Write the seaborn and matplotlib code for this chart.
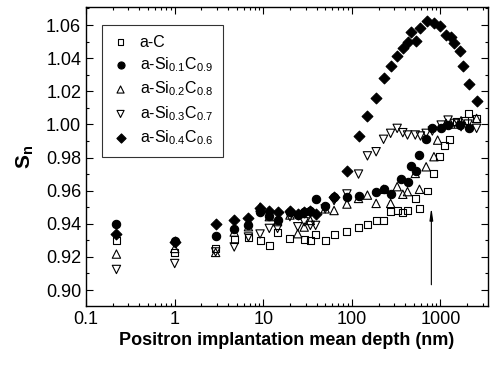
import matplotlib
matplotlib.use("Agg")
import matplotlib.pyplot as plt
from matplotlib.ticker import LogLocator, MultipleLocator, FixedLocator, FixedFormatter
import seaborn as sns

# depth (nm) / S-parameter readings for each film
x_aC = [0.22, 1.0, 2.9, 4.7, 6.8, 9.2, 11.7, 14.5, 20, 29, 34, 39, 50, 63, 88, 119, 150, 188,
        228, 274, 325, 376, 425, 520, 580, 710, 845, 980, 1110, 1270, 1500, 1850, 2090, 2560]
s_aC = [0.930, 0.9227, 0.9251, 0.9306, 0.9318, 0.930, 0.9271, 0.9348, 0.9312, 0.9306, 0.930,
        0.9336, 0.930, 0.9336, 0.9352, 0.9378, 0.9396, 0.9422, 0.9422, 0.9473, 0.948, 0.947,
        0.948, 0.9553, 0.949, 0.9598, 0.9704, 0.9805, 0.9875, 0.991, 1.0016, 1.0026, 1.0067, 1.0036]

x_si01 = [0.22, 1.0, 2.9, 4.7, 6.8, 9.2, 11.7, 14.5, 20, 24.5, 29, 34, 39, 50, 63, 88, 119,
          188, 228, 274, 360, 425, 467, 532, 580, 690, 810, 1020, 1220, 1650, 2090]
s_si01 = [0.9398, 0.9298, 0.9328, 0.9366, 0.939, 0.9473, 0.9447, 0.942, 0.9473, 0.945, 0.947,
          0.948, 0.9547, 0.951, 0.956, 0.956, 0.957, 0.959, 0.961, 0.958, 0.967, 0.965, 0.975,
          0.972, 0.9815, 0.991, 0.998, 0.9976, 0.9996, 0.9996, 0.998]

x_si02 = [0.22, 1.0, 2.9, 4.7, 6.8, 9.2, 11.7, 14.5, 20, 24.5, 29, 34, 50, 63, 88, 119, 150,
          188, 228, 274, 325, 376, 425, 520, 580, 690, 845, 930, 1160, 1440, 1710, 2560]
s_si02 = [0.9217, 0.9251, 0.9227, 0.935, 0.9382, 0.950, 0.9443, 0.9413, 0.9453, 0.934, 0.938,
          0.942, 0.949, 0.948, 0.9519, 0.9553, 0.9573, 0.9523, 0.9608, 0.9523, 0.9624, 0.9578,
          0.9594, 0.9704, 0.9608, 0.9744, 0.9805, 0.9905, 1.0006, 1.0002, 1.0022, 1.0036]

x_si03 = [0.22, 1.0, 2.9, 4.7, 6.8, 9.2, 11.7, 14.5, 20, 24.5, 29, 34, 39, 50, 63, 88, 119,
          150, 188, 228, 274, 325, 376, 425, 520, 595, 690, 810, 1020, 1220, 1440, 1710, 2050, 2560]
s_si03 = [0.9124, 0.916, 0.923, 0.926, 0.932, 0.9338, 0.9372, 0.9372, 0.9443, 0.9382, 0.9412,
          0.939, 0.939, 0.949, 0.954, 0.958, 0.970, 0.981, 0.9835, 0.991, 0.9946, 0.9976, 0.995,
          0.9936, 0.9936, 0.993, 0.9946, 0.996, 0.9996, 1.0026, 1.0006, 0.9986, 1.0002, 0.9976]

x_si04 = [0.22, 1.0, 2.9, 4.7, 6.8, 9.2, 11.7, 14.5, 20, 24.5, 29, 34, 39, 63, 88, 119, 150,
          188, 228, 274, 325, 376, 425, 467, 532, 595, 710, 845, 980, 1160, 1310, 1440, 1650,
          1780, 2090, 2560]
s_si04 = [0.9338, 0.9288, 0.9398, 0.9422, 0.9432, 0.9493, 0.948, 0.947, 0.948, 0.946, 0.947,
          0.948, 0.946, 0.956, 0.972, 0.993, 1.005, 1.016, 1.028, 1.035, 1.041, 1.046, 1.050,
          1.0556, 1.0505, 1.058, 1.0624, 1.061, 1.0596, 1.054, 1.0526, 1.049, 1.0445, 1.035,
          1.0244, 1.0143]

labels = ["a-C", r"a-Si$_{0.1}$C$_{0.9}$", r"a-Si$_{0.2}$C$_{0.8}$",
          r"a-Si$_{0.3}$C$_{0.7}$", r"a-Si$_{0.4}$C$_{0.6}$"]
x_ticks = [0.1, 1, 10, 100, 1000]
x_ticklabels = ["0.1", "1", "10", "100", "1000"]

sns.set_style("ticks")
plt.rcParams["font.family"] = ["Liberation Sans", "DejaVu Sans"]
plt.rcParams["mathtext.fontset"] = "custom"
plt.rcParams["mathtext.rm"] = "Liberation Sans"
plt.rcParams["mathtext.it"] = "Liberation Sans:italic"
plt.rcParams["mathtext.bf"] = "Liberation Sans:bold"
plt.rcParams["text.color"] = "black"
plt.rcParams["axes.labelcolor"] = "black"

fig = plt.figure(figsize=(4.92, 3.67), dpi=100)
ax = fig.add_axes([0.175, 0.166, 0.817, 0.815])

series = [
    (x_aC, s_aC, "s", "none", 5),
    (x_si01, s_si01, "o", "black", 6),
    (x_si02, s_si02, "^", "none", 6),
    (x_si03, s_si03, "v", "none", 6),
    (x_si04, s_si04, "D", "black", 5.5),
]
for (xs, ys, mk, fc, ms), lab in zip(series, labels):
    sns.scatterplot(x=xs, y=ys, ax=ax, marker=mk, s=ms ** 2, facecolor=fc,
                    edgecolor="black", linewidth=0.8, label=lab)

ax.annotate("", xy=(790, 0.9515), xytext=(790, 0.9015),
            arrowprops=dict(arrowstyle="-|>,head_length=0.7,head_width=0.1",
                            color="black", lw=0.8))

ax.set_xscale("log")
ax.set_xlim(0.1, 3450)
ax.set_ylim(0.8903, 1.0709)
ax.xaxis.set_major_locator(FixedLocator(x_ticks))
ax.xaxis.set_major_formatter(FixedFormatter(x_ticklabels))
ax.xaxis.set_minor_locator(LogLocator(base=10, subs=range(2, 10), numticks=20))
ax.yaxis.set_major_locator(MultipleLocator(0.02))
ax.yaxis.set_minor_locator(MultipleLocator(0.01))
ax.yaxis.set_major_formatter(matplotlib.ticker.FormatStrFormatter("%.2f"))

ax.tick_params(which="both", direction="in", top=True, right=True, labelsize=13,
               width=0.8, color="black", labelcolor="black")
ax.tick_params(which="major", length=5)
ax.tick_params(which="minor", length=2.5)
for sp in ax.spines.values():
    sp.set_linewidth(1.0)
    sp.set_color("black")

ax.set_xlabel("Positron implantation mean depth (nm)", fontsize=13,
              fontweight="bold", labelpad=3, color="black")
ax.set_ylabel(r"$\mathbf{S_n}$", fontsize=15, labelpad=7, color="black")

leg = ax.legend(loc="upper left", bbox_to_anchor=(0.04, 0.94), borderaxespad=0,
                fontsize=11.5, frameon=True, fancybox=False, edgecolor="black",
                handletextpad=0.65, borderpad=0.6, labelspacing=0.36,
                handlelength=1.1, markerscale=0.85)
leg.get_frame().set_linewidth(0.8)
for t in leg.get_texts():
    t.set_color("black")

fig.savefig("out.png", dpi=100)
